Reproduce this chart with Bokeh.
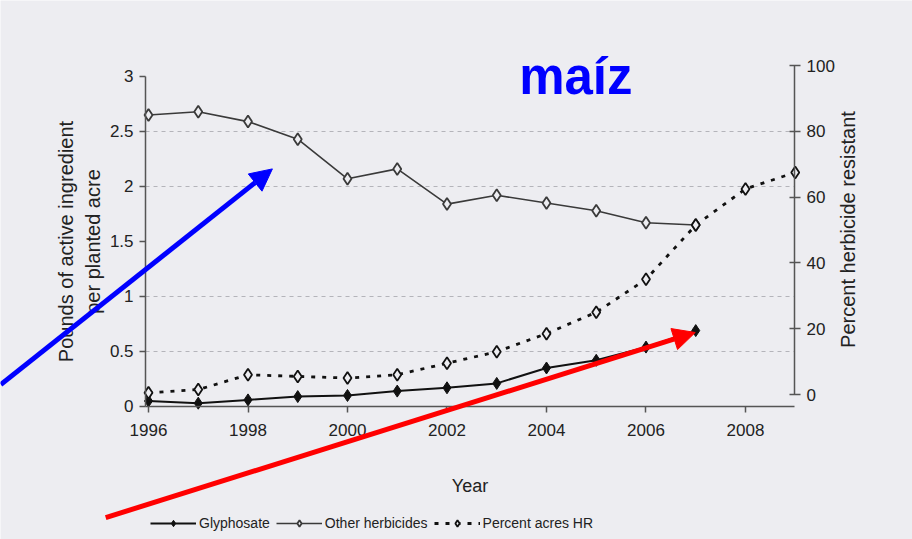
from bokeh.plotting import figure
from bokeh.models import (Range1d, LinearAxis, FixedTicker, Legend, LegendItem,
                          Label, Arrow, NormalHead)
from bokeh.embed import file_html
from bokeh.resources import INLINE
import math

# ---------------- data ----------------
years = [1996, 1997, 1998, 1999, 2000, 2001, 2002, 2003, 2004, 2005, 2006, 2007]
glyphosate = [0.05, 0.03, 0.06, 0.09, 0.10, 0.14, 0.17, 0.21, 0.35, 0.42, 0.54, 0.69]
other_herbicides = [2.65, 2.68, 2.59, 2.43, 2.07, 2.16, 1.84, 1.92, 1.85, 1.78, 1.67, 1.65]

hr_years = [1996, 1997, 1998, 1999, 2000, 2001, 2002, 2003, 2004, 2005, 2006, 2007, 2008, 2009]
percent_acres_hr = [0.5, 1.5, 6, 5.5, 5, 6, 9.5, 13, 18.5, 25, 35, 51.5, 62.5, 67.5]

x_ticks = [1996, 1998, 2000, 2002, 2004, 2006, 2008]
x_tick_labels = ["1996", "1998", "2000", "2002", "2004", "2006", "2008"]
left_ticks = [0, 0.5, 1, 1.5, 2, 2.5, 3]
left_tick_labels = ["0", "0.5", "1", "1.5", "2", "2.5", "3"]
grid_ticks = [0.5, 1, 2, 2.5]
right_ticks = [0, 20, 40, 60, 80, 100]
right_tick_labels = ["0", "20", "40", "60", "80", "100"]

title_text = "maíz"
x_title = "Year"
left_title = "Pounds of active ingredient\nper planted acre"
right_title = "Percent herbicide resistant"
series_names = ["Glyphosate", "Other herbicides", "Percent acres HR"]

# annotation arrows (data coordinates of tail and tip)
blue_arrow = dict(x_start=1993.03, y_start=0.20, x_end=1998.49, y_end=2.16)
red_arrow = dict(x_start=1995.14, y_start=-1.01, x_end=2006.99, y_end=0.673)

# ---------------- style ----------------
FONT = "Liberation Sans"
BG = "#ededf1"
INK = "#222222"
AXIS = "#555555"
TICK_FS = "17px"

XL, XR = 1995.94, 2008.985          # extent of the plotted axes (years)
p = figure(frame_width=912, frame_height=539, output_backend="svg", toolbar_location=None,
           x_range=Range1d(1993.025, 2011.357), y_range=Range1d(-1.2091, 3.6909),
           min_border=0)
p.title.visible = False
p.background_fill_color = BG
p.border_fill_color = BG
p.outline_line_color = None
p.extra_y_ranges = {"pct": Range1d(-44.07, 119.76)}
p.xgrid.visible = False
p.ygrid.visible = False

# dashed horizontal grid lines between the two vertical axes
p.segment(x0=[XL] * len(grid_ticks), x1=[XR] * len(grid_ticks), y0=grid_ticks, y1=grid_ticks,
          line_color="#b4b4ba", line_dash="4 4", line_width=1.2)

# x axis
xa = p.xaxis[0]
xa.fixed_location = 0
xa.bounds = (XL, XR)
xa.ticker = FixedTicker(ticks=x_ticks)
xa.major_label_overrides = dict(zip(x_ticks, x_tick_labels))
xa.minor_tick_line_color = None
xa.major_tick_out = 6
xa.major_tick_in = 0
xa.major_label_standoff = 12
xa.axis_label = x_title
xa.axis_label_standoff = 36
xa.axis_label_text_font_size = "18px"

# left axis
ya = p.yaxis[0]
ya.fixed_location = XL
ya.bounds = (0, 3)
ya.ticker = FixedTicker(ticks=left_ticks)
ya.major_label_overrides = dict(zip(left_ticks, left_tick_labels))
ya.minor_tick_line_color = None
ya.major_tick_out = 6
ya.major_tick_in = 0
ya.major_label_standoff = 6
ya.axis_label = left_title
ya.axis_label_standoff = 3
ya.axis_label_text_font_size = "20px"

# right axis
ra = LinearAxis(y_range_name="pct", ticker=FixedTicker(ticks=right_ticks))
ra.fixed_location = XR
ra.bounds = (0, 100)
ra.major_label_overrides = dict(zip(right_ticks, right_tick_labels))
ra.minor_tick_line_color = None
ra.major_tick_out = 6
ra.major_tick_in = 5
ra.major_label_standoff = 6
p.add_layout(ra, "right")

for ax in (xa, ya, ra):
    ax.axis_line_color = AXIS
    ax.axis_line_width = 1.5
    ax.major_tick_line_color = AXIS
    ax.major_tick_line_width = 1.5
    ax.major_label_text_font = FONT
    ax.major_label_text_font_size = TICK_FS
    ax.major_label_text_color = INK
    ax.axis_label_text_font = FONT
    ax.axis_label_text_font_style = "normal"
    ax.axis_label_text_color = INK

# right axis title, reading upwards like the reference
p.add_layout(Label(x=2010.07, y=1.609, text=right_title, angle=math.pi / 2,
                   text_align="center", text_baseline="middle", text_font=FONT,
                   text_font_size="20px", text_color=INK))

# ---------------- series ----------------
oh_line = p.line(years, other_herbicides, line_color="#3a3a3a", line_width=1.6)
oh_pts = p.scatter(years, other_herbicides, marker="diamond", size=12,
                   fill_color=BG, line_color="#3a3a3a", line_width=1.8)

gl_line = p.line(years, glyphosate, line_color="#111111", line_width=2)
gl_pts = p.scatter(years, glyphosate, marker="diamond", size=12,
                   fill_color="#111111", line_color="#111111")

hr_line = p.line(hr_years, percent_acres_hr, y_range_name="pct",
                 line_color="#111111", line_width=2.8, line_dash="4 7")
hr_pts = p.scatter(hr_years, percent_acres_hr, y_range_name="pct", marker="diamond",
                   size=12, fill_color=BG, line_color="#111111", line_width=1.8)

legend = Legend(items=[
    LegendItem(label=series_names[0], renderers=[gl_line, gl_pts]),
    LegendItem(label=series_names[1], renderers=[oh_line, oh_pts]),
    LegendItem(label=series_names[2], renderers=[hr_line, hr_pts]),
], orientation="horizontal", location=(150, 8))
legend.glyph_width = 46
legend.glyph_height = 16
legend.label_height = 16
legend.label_standoff = 3
legend.spacing = 6
legend.padding = 0
legend.margin = 0
legend.label_text_font = FONT
legend.label_text_font_size = "14px"
legend.label_text_color = INK
legend.background_fill_alpha = 0
legend.border_line_color = None
p.add_layout(legend)

# ---------------- annotations ----------------
p.add_layout(Label(x=2003.45, y=3.0, text=title_text, text_font=FONT,
                   text_font_size="51px", text_font_style="bold",
                   text_color="#0000ff", text_baseline="alphabetic"))

p.add_layout(Arrow(end=NormalHead(size=22, fill_color="#0000ff", line_color="#0000ff"),
                   line_color="#0000ff", line_width=5, **blue_arrow))
p.add_layout(Arrow(end=NormalHead(size=22, fill_color="#ff0000", line_color="#ff0000"),
                   line_color="#ff0000", line_width=5, **red_arrow))

open("out.html", "w").write(file_html(p, INLINE))
